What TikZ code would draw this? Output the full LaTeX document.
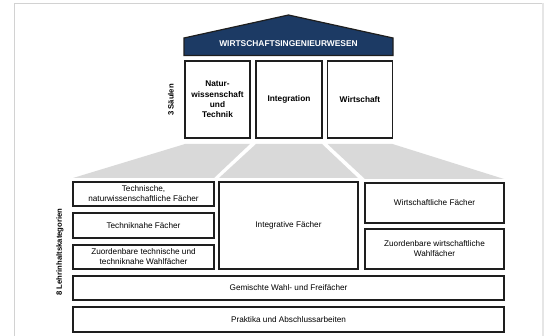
\documentclass[tikz,border=0pt]{standalone}
\usepackage{fontspec}
\setmainfont{Liberation Sans}
\usetikzlibrary{calc}
\definecolor{roofblue}{HTML}{1C3A64}
\definecolor{framegray}{HTML}{D2D2D2}
\definecolor{framegraylt}{HTML}{E6E6E6}
\definecolor{trapgray}{HTML}{D9D9D9}
\definecolor{boxline}{HTML}{1E1E1E}
\tikzset{
  box/.style={draw=boxline, line width=1.2pt, fill=white, rectangle, inner sep=0pt, outer sep=0pt, align=center,
    font=\fontsize{8.2}{10}\selectfont},
  pillar/.style={box, font=\fontsize{8.3}{10.3}\selectfont\bfseries},
  sidelabel/.style={rotate=90, inner sep=0pt, font=\fontsize{7.7}{9}\selectfont\bfseries},
  trap/.style={fill=trapgray, draw=none},
}
\begin{document}
\begin{tikzpicture}[x=1pt,y=-1pt]
\useasboundingbox (0,0) rectangle (544,336);
% frame
\draw[framegray, line width=1.5pt] (14.5,336) -- (14.5,3.5) -- (543,3.5);
\draw[framegraylt, line width=1.5pt] (543,3.5) -- (543,336);
% roof
\draw[boxline, line width=1.2pt, fill=roofblue] (184,55.5) -- (184,38) -- (288.5,15) -- (393,38) -- (393,55.5) -- cycle;
\node[text=white, inner sep=0pt, font=\fontsize{8.4}{10}\selectfont\bfseries] (roof) at (288.5,43.5) {WIRTSCHAFTSINGENIEURWESEN};
% pillars
\node[pillar, minimum width=65pt, minimum height=77pt] (p1) at (217.5,99.5) {Natur-\\wissenschaft\\und\\Technik};
\node[pillar, minimum width=66pt, minimum height=77pt] (p2) at (289,99.5) {Integration};
\node[pillar, minimum width=65pt, minimum height=77pt] (p3) at (360,99.5) {Wirtschaft};
\node[sidelabel] (saeulen) at (171,100) {3 Säulen};
% lower boxes
\node[box, minimum width=141pt, minimum height=24pt] (t1) at (143.5,194) {Technische,\\naturwissenschaftliche Fächer};
\node[box, minimum width=141pt, minimum height=25pt] (t2) at (143.5,225.5) {Techniknahe Fächer};
\node[box, minimum width=141pt, minimum height=24pt] (t3) at (143.5,257) {Zuordenbare technische und\\techniknahe Wahlfächer};
\node[box, minimum width=139pt, minimum height=87pt] (ig) at (288.5,225.5) {Integrative Fächer};
\node[box, minimum width=139pt, minimum height=40pt] (w1) at (434.5,203) {Wirtschaftliche Fächer};
\node[box, minimum width=139pt, minimum height=40pt] (w2) at (434.5,249) {Zuordenbare wirtschaftliche\\Wahlfächer};
\node[box, minimum width=431pt, minimum height=24pt] (gm) at (288.5,288) {Gemischte Wahl- und Freifächer};
\node[box, minimum width=431pt, minimum height=25pt] (pk) at (288.5,319.5) {Praktika und Abschlussarbeiten};
\node[sidelabel] (kat) at (60,252) {8 Lehrinhaltskategorien};
% trapezoids
\fill[trap] ([yshift=-6pt]p1.south west) -- ([yshift=-6pt]p1.south east) -- ([yshift=4pt]t1.north east) -- ([yshift=4pt]t1.north west) -- cycle;
\fill[trap] ([yshift=-6pt]p2.south west) -- ([yshift=-6pt]p2.south east) -- ([yshift=4pt]ig.north east) -- ([yshift=4pt]ig.north west) -- cycle;
\fill[trap] ([yshift=-6pt]p3.south west) -- ([yshift=-6pt]p3.south east) -- ([yshift=4pt]w1.north east) -- ([yshift=4pt]w1.north west) -- cycle;
\end{tikzpicture}
\end{document}
